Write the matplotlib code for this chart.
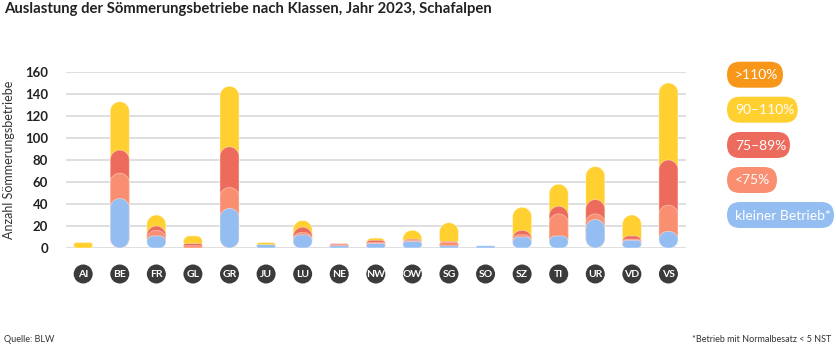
import matplotlib
matplotlib.use("Agg")
import matplotlib.pyplot as plt
from matplotlib.path import Path
from matplotlib.patches import PathPatch, FancyBboxPatch, Circle

plt.rcParams['font.family'] = ['Lato', 'DejaVu Sans']

categories = ["AI", "BE", "FR", "GL", "GR", "JU", "LU", "NE", "NW", "OW",
              "SG", "SO", "SZ", "TI", "UR", "VD", "VS"]
# stacked values (bottom to top)
kleiner_betrieb = [0, 45, 11, 0, 36, 3, 12, 2, 4, 6, 2, 2, 10, 11, 26, 7, 15]
unter_75 = [0, 23, 5, 2, 19, 0, 2, 1, 1, 1, 3, 0, 2, 20, 5, 1, 24]
p75_89 = [0, 21, 4, 2, 37, 0, 5, 1, 2, 1, 1, 0, 4, 7, 13, 3, 41]
p90_110 = [5, 44, 10, 7, 55, 2, 6, 0, 2, 8, 17, 0, 21, 20, 30, 19, 70]
ueber_110 = [0] * 17

series = [
    ("kleiner Betrieb*", kleiner_betrieb, "#94BEF2"),
    ("<75%", unter_75, "#FA8E70"),
    ("75–89%", p75_89, "#EC6B5D"),
    ("90–110%", p90_110, "#FFD02F"),
    (">110%", ueber_110, "#F8961A"),
]
yticks = [0, 20, 40, 60, 80, 100, 120, 140, 160]

W, H = 836, 357
fig = plt.figure(figsize=(W / 100, H / 100), dpi=100)

ax_l, ax_r, ax_t, ax_b = 66, 686, 72, 248
ax = fig.add_axes([ax_l / W, (H - ax_b) / H, (ax_r - ax_l) / W, (ax_b - ax_t) / H])
xmin, xmax = -0.47, 16.48
ymin, ymax = 0, 160
ax.set_xlim(xmin, xmax)
ax.set_ylim(ymin, ymax)
for s in ax.spines.values():
    s.set_visible(False)
ax.set_xticks([])
ax.set_yticks(yticks)
ax.set_yticklabels([str(v) for v in yticks], fontsize=9.5, fontweight='bold', color='#222222')
ax.tick_params(axis='y', length=0, pad=13)
ax.grid(axis='y', color='#dcdcdc', linewidth=1.3)
ax.set_axisbelow(True)
ax.set_ylabel("Anzahl Sömmerungsbetriebe", fontsize=9, color='#333333', labelpad=8)
ax.yaxis.set_label_coords(-0.083, 0.5)

sx = (ax_r - ax_l) / (xmax - xmin)
sy = (ax_b - ax_t) / (ymax - ymin)
bar_w = 0.52
k = 0.5523


def pill(x0, x1, y0, y1):
    w_px = (x1 - x0) * sx
    h_px = (y1 - y0) * sy
    r = min(w_px, h_px) / 2.0
    rx, ry = r / sx, r / sy
    verts = [
        (x0 + rx, y0), (x1 - rx, y0),
        (x1 - rx + k * rx, y0), (x1, y0 + ry - k * ry), (x1, y0 + ry),
        (x1, y1 - ry),
        (x1, y1 - ry + k * ry), (x1 - rx + k * rx, y1), (x1 - rx, y1),
        (x0 + rx, y1),
        (x0 + rx - k * rx, y1), (x0, y1 - ry + k * ry), (x0, y1 - ry),
        (x0, y0 + ry),
        (x0, y0 + ry - k * ry), (x0 + rx - k * rx, y0), (x0 + rx, y0),
        (x0 + rx, y0),
    ]
    codes = [Path.MOVETO, Path.LINETO,
             Path.CURVE4, Path.CURVE4, Path.CURVE4,
             Path.LINETO,
             Path.CURVE4, Path.CURVE4, Path.CURVE4,
             Path.LINETO,
             Path.CURVE4, Path.CURVE4, Path.CURVE4,
             Path.LINETO,
             Path.CURVE4, Path.CURVE4, Path.CURVE4,
             Path.CLOSEPOLY]
    return Path(verts, codes)


n = len(categories)
for i in range(n):
    cum = 0
    tops = []
    for name, vals, col in series:
        cum += vals[i]
        tops.append((cum, vals[i], col))
    for z, (top, inc, col) in enumerate(tops):
        if inc <= 0:
            continue
        p = pill(i - bar_w / 2, i + bar_w / 2, 0, top)
        ax.add_patch(PathPatch(p, facecolor=col, edgecolor=(1, 1, 1, 0.45),
                               linewidth=0.6, zorder=10 - z, clip_on=False))

# overlay in pixel coordinates
ov = fig.add_axes([0, 0, 1, 1], zorder=5)
ov.set_xlim(0, W)
ov.set_ylim(H, 0)
ov.axis('off')
ov.patch.set_alpha(0)

fig.canvas.draw()
for i, c in enumerate(categories):
    px, py = ax.transData.transform((i, 0))
    ov.add_patch(Circle((px, 274), 9.5, facecolor='#3b3b3b', edgecolor='none'))
    ov.text(px, 274.5, c, ha='center', va='center', color='white',
            fontsize=7.5, fontweight='bold')

# legend pills
legend_items = [
    (">110%", "#F8961A", 74.7, 783),
    ("90–110%", "#FFD02F", 109.7, 797.7),
    ("75–89%", "#EC6B5D", 145, 790),
    ("<75%", "#FA8E70", 180, 777),
    ("kleiner Betrieb*", "#94BEF2", 215, 834),
]
for label, col, cy, xr in legend_items:
    x0 = 727
    h = 26
    ov.add_patch(FancyBboxPatch((x0, cy - h / 2), xr - x0, h,
                                boxstyle="round,pad=0,rounding_size=13",
                                facecolor=col, edgecolor='none'))
    ov.text(x0 + 8, cy + 0.5, label, ha='left', va='center', color='white', fontsize=10)

ov.text(4, 9, "Auslastung der Sömmerungsbetriebe nach Klassen, Jahr 2023, Schafalpen",
        ha='left', va='center', fontsize=10.7, fontweight='bold', color='#222222')
ov.text(4, 339, "Quelle: BLW", ha='left', va='center', fontsize=6.5, color='#333333')
ov.text(831, 339, "*Betrieb mit Normalbesatz < 5 NST", ha='right', va='center',
        fontsize=6.5, color='#333333')

fig.savefig("out.png", dpi=100)
